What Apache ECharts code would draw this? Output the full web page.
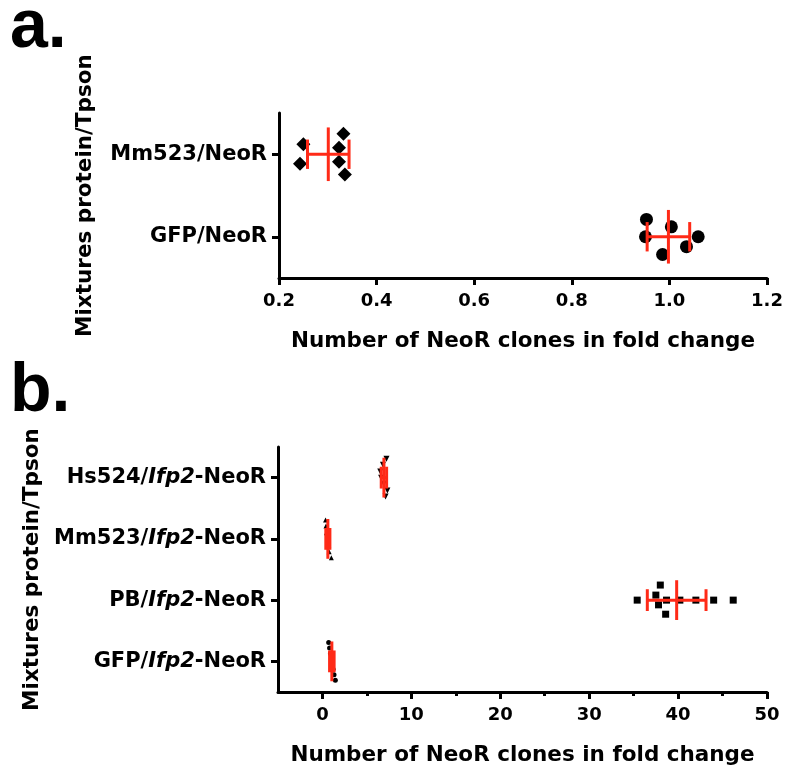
<!DOCTYPE html>
<html>
<head>
<meta charset="utf-8">
<script src="https://cdn.jsdelivr.net/npm/echarts@6/dist/echarts.min.js"></script>
<style>
  html, body { margin: 0; padding: 0; background: #fff; }
  #chart { width: 787px; height: 774px; }
</style>
</head>
<body>
<div id="chart"></div>
<script>
// panel a: categories bottom -> top
const catsA = ['GFP/NeoR', 'Mm523/NeoR']
const gfpA = [0.953, 0.951, 1.004, 0.986, 1.035, 1.059]
const gfpAJitter = [0.21, 0, 0.12, -0.215, -0.12, 0]
const mm523A = [0.25, 0.243, 0.332, 0.323, 0.323, 0.335]
const mm523AJitter = [0.12, -0.115, 0.25, 0.08, -0.09, -0.245]
const ticksA = [0.2, 0.4, 0.6, 0.8, 1.0, 1.2]

// panel b
const catsB = ['GFP/Ifp2-NeoR', 'PB/Ifp2-NeoR', 'Mm523/Ifp2-NeoR', 'Hs524/Ifp2-NeoR']
const gfpB = [0.7, 0.8, 0.9, 1.0, 1.1, 1.2, 1.3, 1.45]
const gfpBJitter = [0.31, 0.22, 0.13, 0.04, -0.04, -0.13, -0.22, -0.31]
const pbB = [35.4, 38.0, 37.5, 37.8, 38.7, 38.6, 40.2, 42.0, 44.0, 46.2]
const pbBJitter = [0, 0.246, 0.082, -0.077, 0, -0.23, 0, 0, 0, 0]
const mm523B = [0.35, 0.4, 0.45, 0.6, 0.7, 0.75, 1.0]
const mm523BJitter = [0.31, 0.21, 0.1, 0, -0.1, -0.21, -0.31]
const hs524B = [7.2, 6.8, 6.5, 6.6, 6.9, 7.3, 7.1]
const hs524BJitter = [0.31, 0.21, 0.1, 0, -0.1, -0.21, -0.31]
const ticksB = [0, 10, 20, 30, 40, 50]
const minorTicksB = [5, 15, 25, 35, 45]

const RED = '#ff2a17'
const FONT = "'DejaVu Sans', sans-serif"
const MEAN_HALF = 0.325  // half length of mean line, in band units
const CAP_HALF = 0.178

// mean and sample SD
function stats(arr) {
  const m = arr.reduce((s, v) => s + v, 0) / arr.length
  const v = arr.reduce((s, x) => s + (x - m) * (x - m), 0) / (arr.length - 1)
  return [m, Math.sqrt(v)]
}

function pts(vals, jit, idx) {
  return vals.map((v, i) => [v, idx + jit[i]])
}

function renderErr(params, api) {
  const mean = api.value(0), sd = api.value(1), cat = api.value(2)
  const c = api.coord([mean, cat])
  const lo = api.coord([mean - sd, cat])
  const hi = api.coord([mean + sd, cat])
  const band = api.size([0, 1])[1]
  const mh = band * MEAN_HALF, ch = band * CAP_HALF
  const style = { stroke: RED, lineWidth: 3 }
  return {
    type: 'group',
    children: [
      { type: 'line', shape: { x1: lo[0], y1: c[1], x2: hi[0], y2: c[1] }, style },
      { type: 'line', shape: { x1: c[0], y1: c[1] - mh, x2: c[0], y2: c[1] + mh }, style },
      { type: 'line', shape: { x1: lo[0], y1: c[1] - ch, x2: lo[0], y2: c[1] + ch }, style },
      { type: 'line', shape: { x1: hi[0], y1: c[1] - ch, x2: hi[0], y2: c[1] + ch }, style }
    ]
  }
}

function catLabel(name) {
  const parts = name.split('Ifp2')
  if (parts.length < 2) return '{n|' + name + '}'
  return '{n|' + parts[0] + '}{i|Ifp2}{n|' + parts[1] + '}'
}

const lineStyle = { color: '#000', width: 3 }
const labelRich = {
  n: { fontFamily: FONT, fontWeight: 'bold', fontSize: 21, color: '#000' },
  i: { fontFamily: FONT, fontWeight: 'bold', fontStyle: 'italic', fontSize: 21, color: '#000' }
}
const nameStyle = { fontFamily: FONT, fontWeight: 'bold', fontSize: 21.5, color: '#000' }

function xAxisBase(grid, min, max, ticks, fmt) {
  return {
    type: 'value', gridIndex: grid, min: min, max: max,
    axisLine: { show: true, onZero: false, lineStyle: lineStyle },
    axisTick: { show: true, length: 7, lineStyle: lineStyle, customValues: ticks },
    axisLabel: { customValues: ticks, formatter: fmt, margin: 14, fontFamily: FONT, fontWeight: 'bold', fontSize: 18, color: '#000' },
    splitLine: { show: false },
    name: 'Number of NeoR clones in fold change',
    nameLocation: 'middle', nameGap: 52, nameTextStyle: nameStyle
  }
}

function yCatAxis(grid, cats, gap) {
  return {
    type: 'category', gridIndex: grid, data: cats,
    axisLine: { show: true, onZero: false, lineStyle: lineStyle },
    axisTick: { show: true, alignWithLabel: true, length: 7, lineStyle: lineStyle },
    axisLabel: { margin: 12, formatter: catLabel, rich: labelRich },
    name: 'Mixtures protein/Tpson', nameLocation: 'middle', nameRotate: 90,
    nameGap: gap, nameTextStyle: nameStyle
  }
}

function yValAxis(grid, n) {
  return { type: 'value', gridIndex: grid, min: -0.5, max: n - 0.5, show: false, splitLine: { show: false } }
}

function scatter(xi, yi, data, symbol, size, rotate) {
  return {
    type: 'scatter', xAxisIndex: xi, yAxisIndex: yi, data: data,
    symbol: symbol, symbolSize: size, symbolRotate: rotate || 0,
    itemStyle: { color: '#000', opacity: 1 }, z: 2, silent: true
  }
}

function errSeries(xi, yi, groups) {
  return {
    type: 'custom', xAxisIndex: xi, yAxisIndex: yi, renderItem: renderErr,
    encode: { x: 0, y: 2 }, z: 5, silent: true,
    data: groups.map((g, i) => stats(g).concat([i]))
  }
}

const chart = echarts.init(document.getElementById('chart'))
chart.setOption({
  backgroundColor: '#fff',
  animation: false,
  grid: [
    { left: 279, top: 113, width: 488, height: 165 },
    { left: 278, top: 447, width: 489, height: 245 }
  ],
  xAxis: [
    xAxisBase(0, 0.2, 1.2, ticksA, v => v.toFixed(1)),
    xAxisBase(1, -5, 50, ticksB, v => String(v)),
    {
      type: 'value', gridIndex: 1, min: -5, max: 50, position: 'bottom',
      axisLine: { show: false, onZero: false }, axisLabel: { show: false }, splitLine: { show: false },
      axisTick: { show: true, length: 4, lineStyle: lineStyle, customValues: minorTicksB }
    }
  ],
  yAxis: [
    yCatAxis(0, catsA, 183),
    yValAxis(0, catsA.length),
    yCatAxis(1, catsB, 235),
    yValAxis(1, catsB.length)
  ],
  graphic: [
    { type: 'text', left: 10, top: -6, style: { text: 'a.', fontFamily: "'Liberation Sans', sans-serif", fontWeight: 'bold', fontSize: 68, fill: '#000' } },
    { type: 'text', left: 10, top: 358, style: { text: 'b.', fontFamily: "'Liberation Sans', sans-serif", fontWeight: 'bold', fontSize: 68, fill: '#000' } }
  ],
  series: [
    scatter(0, 1, pts(gfpA, gfpAJitter, 0), 'circle', 13),
    scatter(0, 1, pts(mm523A, mm523AJitter, 1), 'diamond', 14),
    errSeries(0, 1, [gfpA, mm523A]),
    scatter(1, 3, pts(gfpB, gfpBJitter, 0), 'circle', 5),
    scatter(1, 3, pts(pbB, pbBJitter, 1), 'rect', 7),
    scatter(1, 3, pts(mm523B, mm523BJitter, 2), 'triangle', 5),
    scatter(1, 3, pts(hs524B, hs524BJitter, 3), 'triangle', 6, 180),
    errSeries(1, 3, [gfpB, pbB, mm523B, hs524B])
  ]
})
</script>
</body>
</html>
